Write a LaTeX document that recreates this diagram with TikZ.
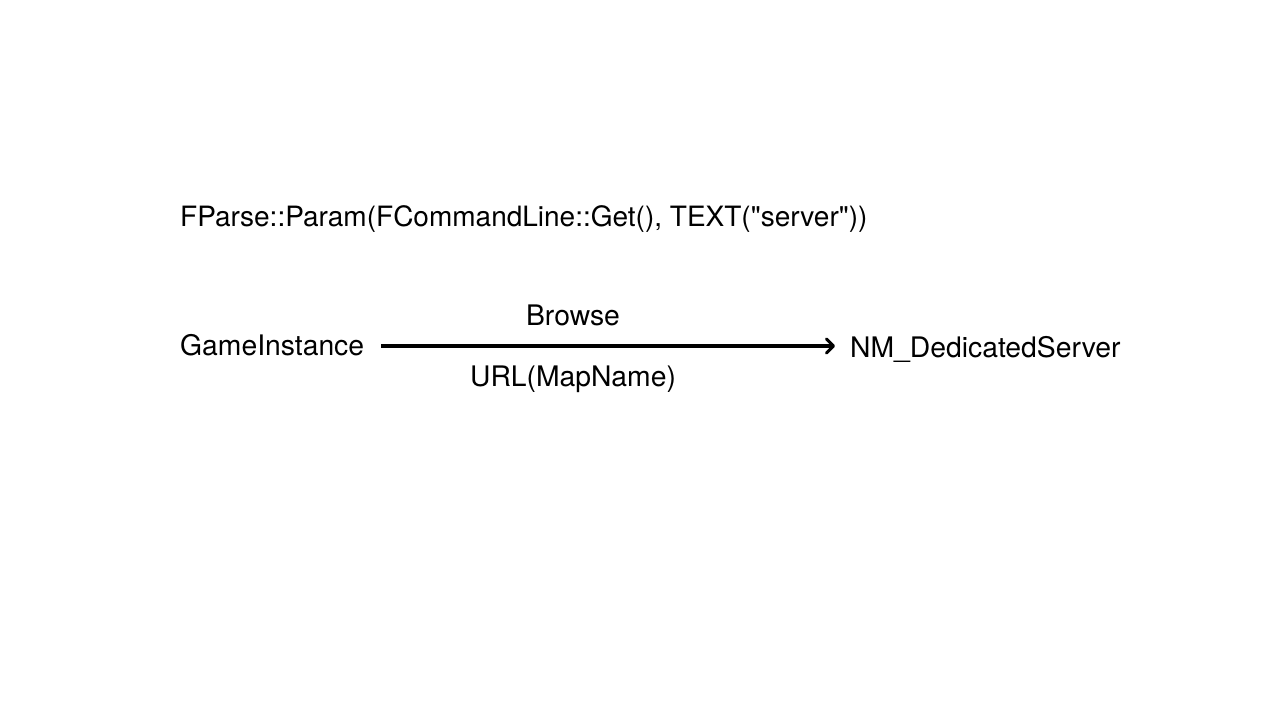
\documentclass[tikz,border=0pt]{standalone}
\usepackage{fontspec}
\setmainfont{TeX Gyre Heros}[Ligatures=TeXOff]
\usetikzlibrary{arrows.meta}
\begin{document}
\begin{tikzpicture}[x=1pt,y=-1pt,
  lbl/.style={inner sep=0pt,font=\fontsize{28.3}{30}\selectfont},
  conn/.style={line width=3.6pt,-{Straight Barb[length=7pt,width=14pt,line width=3pt,round]}}]
\useasboundingbox[fill=white] (0,0) rectangle (1280,720);
\node[lbl,anchor=base west,font=\fontsize{28}{30}\selectfont] (cmd) at (180,226) {FParse::Param(FCommandLine::Get(), TEXT("server"))};
\node[lbl,anchor=base west] (gi) at (180,355) {GameInstance};
\node[lbl,anchor=base west] (nm) at (850,357) {NM\_DedicatedServer};
\coordinate (s) at (381,346);
\coordinate (e) at (835,346);
\draw[conn] (s) -- (e);
\node[lbl,anchor=base] (br) at (573,325) {Browse};
\node[lbl,anchor=base] (url) at (573,386) {URL(MapName)};
\end{tikzpicture}
\end{document}
